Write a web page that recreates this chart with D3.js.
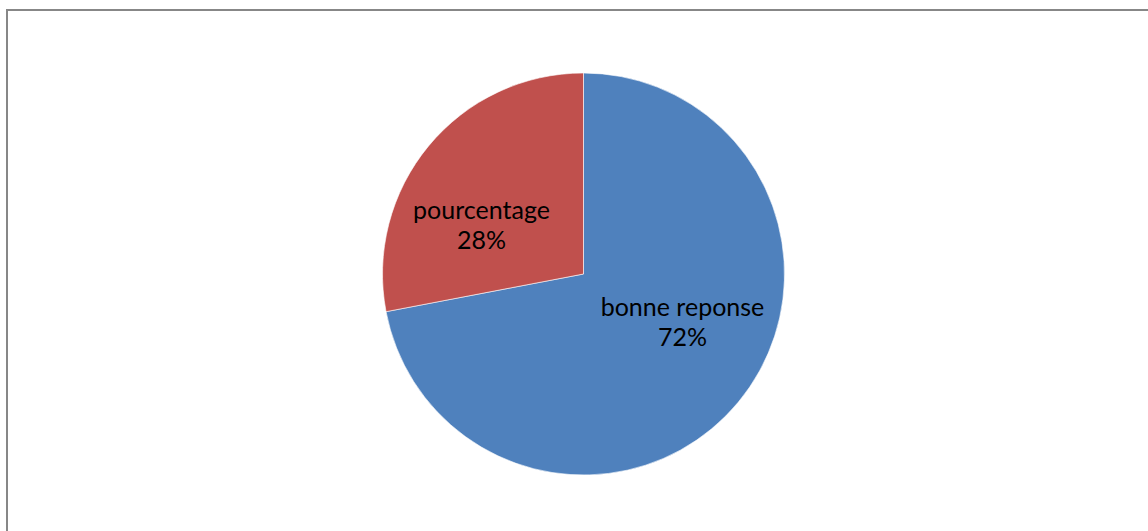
<!DOCTYPE html>
<html>
<head>
<meta charset="utf-8">
<script src="https://cdn.jsdelivr.net/npm/d3@7"></script>
<style>
  body { margin: 0; background: #fff; }
  svg { display: block; }
</style>
</head>
<body>
<svg id="chart" width="1148" height="531"></svg>
<script>
// slices, clockwise from 12 o'clock
const categories = ["bonne reponse", "pourcentage"];
const values = [72, 28];
const colors = ["#4F81BD", "#C0504D"];

const svg = d3.select("#chart");
const W = 1148, H = 531;

// chart area frame (runs off the right / bottom of the picture)
svg.append("rect")
  .attr("x", 7).attr("y", 10)
  .attr("width", W + 10).attr("height", H + 10)
  .attr("fill", "#fff")
  .attr("stroke", "#878787")
  .attr("stroke-width", 2);

const cx = 583.5, cy = 274, r = 201;

const pie = d3.pie().sort(null).value(d => d.value);
const arc = d3.arc().innerRadius(0).outerRadius(r);

const data = categories.map((c, i) => ({ name: c, value: values[i], color: colors[i] }));
const arcs = pie(data);
const total = d3.sum(values);

const g = svg.append("g").attr("transform", `translate(${cx},${cy})`);

g.selectAll("path")
  .data(arcs)
  .join("path")
  .attr("d", arc)
  .attr("fill", d => d.data.color)
  .attr("stroke", "#fff")
  .attr("stroke-width", 0.6);

// label placement the way excel put them (offset of first baseline from centre)
const labelOffset = [[99, 42], [-102, -55]];

const labels = g.selectAll("text.lbl")
  .data(arcs)
  .join("text")
  .attr("class", "lbl")
  .attr("text-anchor", "middle")
  .attr("font-family", "Lato, 'Open Sans', sans-serif")
  .attr("font-size", 25)
  .attr("fill", "#000")
  .attr("transform", (d, i) => `translate(${labelOffset[i][0]},${labelOffset[i][1]})`);

labels.append("tspan")
  .attr("x", 0).attr("y", 0)
  .text(d => d.data.name);
labels.append("tspan")
  .attr("x", 0).attr("y", 30)
  .text(d => Math.round(d.data.value / total * 100) + "%");
</script>
</body>
</html>
